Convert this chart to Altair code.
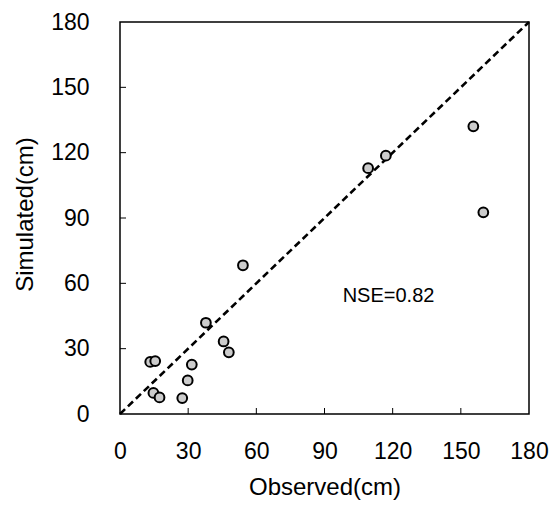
import altair as alt
import pandas as pd

observed = [13.3, 15.5, 14.7, 17.4, 27.4, 29.8, 31.6, 37.8, 45.6, 47.9, 54.1, 109.2, 117.0, 155.5, 159.9]
simulated = [23.9, 24.3, 9.7, 7.6, 7.3, 15.4, 22.7, 41.9, 33.3, 28.3, 68.3, 112.9, 118.6, 132.1, 92.6]
line_x = [0, 180]
line_y = [0, 180]
tick_vals = [30, 60, 90, 120, 150]
axis_vals = [0, 30, 60, 90, 120, 150, 180]
annotation = "NSE=0.82"
ann_x, ann_y = 98, 54

W, H = 409, 392
FONT = "Liberation Sans"

pts = pd.DataFrame({"obs": observed, "sim": simulated})
ln = pd.DataFrame({"obs": line_x, "sim": line_y})
ticks = pd.DataFrame({"t": tick_vals})
ann = pd.DataFrame({"obs": [ann_x], "sim": [ann_y], "label": [annotation]})

xs = alt.Scale(domain=[0, 180], nice=False, zero=False)
ys = alt.Scale(domain=[0, 180], nice=False, zero=False)

xaxis = alt.Axis(values=axis_vals, grid=False, domain=False, ticks=False, labelFlush=False,
                 labelOverlap=False,
                 labelFontSize=23, labelFont=FONT, labelColor="black", labelPadding=26,
                 title="Observed(cm)", titleFontSize=24, titleFont=FONT, titleFontWeight="normal",
                 titleColor="black", titleY=73, titleBaseline="middle")
yaxis = alt.Axis(values=axis_vals, grid=False, domain=False, ticks=False, labelFlush=False,
                 labelOverlap=False,
                 labelFontSize=23, labelFont=FONT, labelColor="black", labelPadding=31,
                 title="Simulated(cm)", titleFontSize=24, titleFont=FONT, titleFontWeight="normal",
                 titleColor="black", titleX=-95, titleY=H / 2 - 4, titleBaseline="middle")

line = alt.Chart(ln).mark_line(color="black", strokeWidth=2.6, strokeDash=[7, 4]).encode(
    x=alt.X("obs:Q", scale=xs, axis=xaxis),
    y=alt.Y("sim:Q", scale=ys, axis=yaxis),
)

points = alt.Chart(pts).mark_point(shape="circle", filled=True, fill="#cccccc", stroke="black",
                                   strokeWidth=2, opacity=1, size=95).encode(
    x=alt.X("obs:Q", scale=xs),
    y=alt.Y("sim:Q", scale=ys),
)

xticks = alt.Chart(ticks).mark_rule(color="black", strokeWidth=1).encode(
    x=alt.X("t:Q", scale=xs),
    y=alt.value(H),
    y2=alt.value(H - 6),
)
yticks = alt.Chart(ticks).mark_rule(color="black", strokeWidth=1).encode(
    y=alt.Y("t:Q", scale=ys),
    x=alt.value(0),
    x2=alt.value(6),
)

text = alt.Chart(ann).mark_text(align="left", baseline="middle", fontSize=20, font=FONT, color="black").encode(
    x=alt.X("obs:Q", scale=xs),
    y=alt.Y("sim:Q", scale=ys),
    text="label:N",
)

chart = alt.layer(line, xticks, yticks, points, text).properties(
    width=W, height=H,
    autosize=alt.AutoSizeParams(type="none"),
    padding={"left": 112, "top": 14, "right": 22, "bottom": 90},
    background="white",
).configure_view(stroke="black", strokeWidth=1.5)

chart.save("out.html", embed_options={"renderer": "svg", "actions": False})
